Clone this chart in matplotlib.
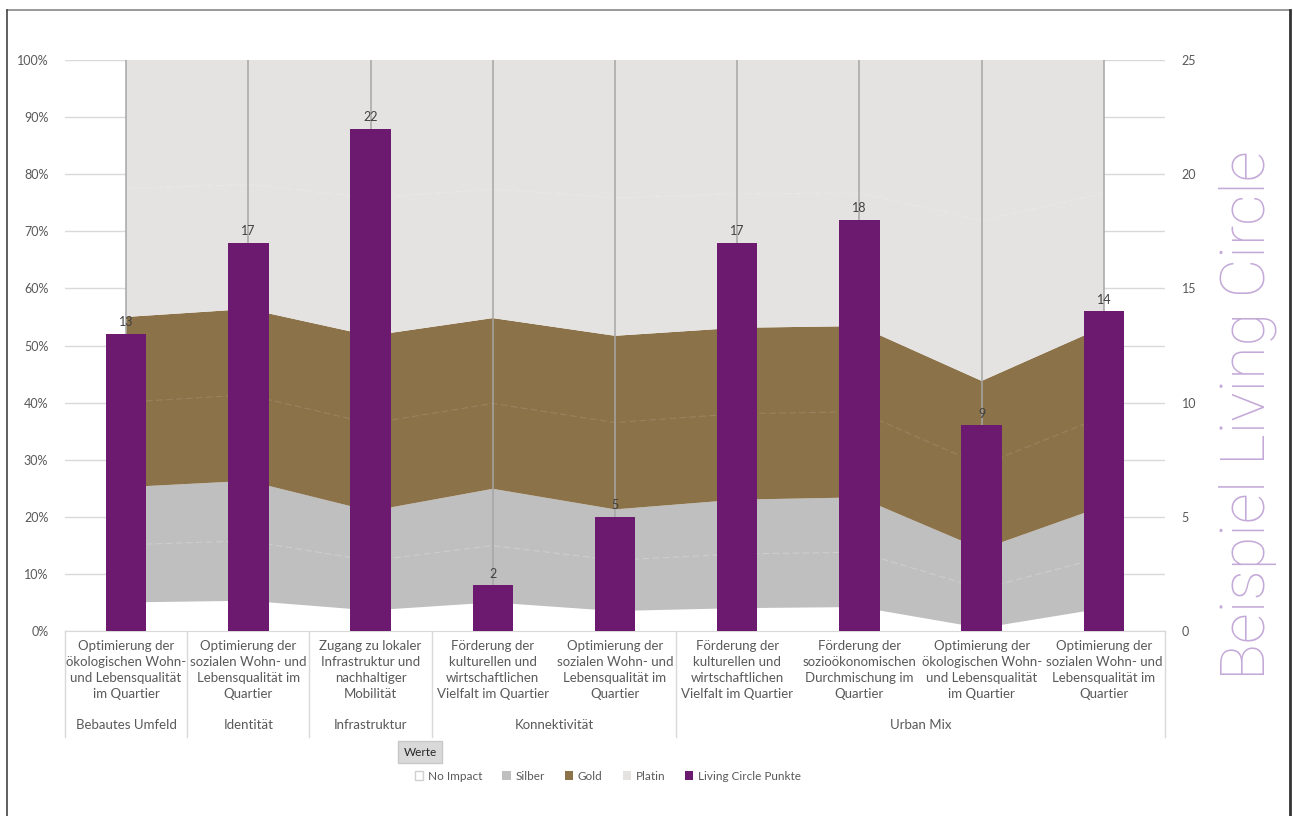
import numpy as np
import matplotlib.pyplot as plt
from matplotlib.patches import Patch
from matplotlib.lines import Line2D
import matplotlib.transforms as mtransforms

plt.rcParams['font.family'] = ['Lato', 'DejaVu Sans']

# Indicator labels (lower level) and their group (upper level)
categories = [
    'Optimierung der\nökologischen Wohn-\nund Lebensqualität\nim Quartier',
    'Optimierung der\nsozialen Wohn- und\nLebensqualität im\nQuartier',
    'Zugang zu lokaler\nInfrastruktur und\nnachhaltiger\nMobilität',
    'Förderung der\nkulturellen und\nwirtschaftlichen\nVielfalt im Quartier',
    'Optimierung der\nsozialen Wohn- und\nLebensqualität im\nQuartier',
    'Förderung der\nkulturellen und\nwirtschaftlichen\nVielfalt im Quartier',
    'Förderung der\nsozioökonomischen\nDurchmischung im\nQuartier',
    'Optimierung der\nökologischen Wohn-\nund Lebensqualität\nim Quartier',
    'Optimierung der\nsozialen Wohn- und\nLebensqualität im\nQuartier',
]
groups = ['Bebautes Umfeld', 'Identität', 'Infrastruktur', 'Konnektivität', 'Urban Mix']
group_sizes = [1, 1, 1, 2, 4]

# Stacked bands in percent
no_impact = [5.0, 5.3, 3.6, 5.0, 3.5, 4.0, 4.2, 0.5, 4.0]
silber = [20.2, 21.0, 17.4, 19.9, 17.8, 19.0, 19.2, 13.8, 17.9]
gold = [29.8, 30.1, 30.7, 29.9, 30.4, 30.1, 30.0, 29.5, 31.4]
platin = [45.0, 43.6, 48.3, 45.2, 48.3, 46.9, 46.6, 56.2, 46.7]

# Points per indicator (right axis)
punkte = [13, 17, 22, 2, 5, 17, 18, 9, 14]

band_colors = ['#ffffff', '#bfbfbf', '#8b7249', '#e4e3e1']
mid_colors = ['#ffffff', '#cdcdcd', '#9a8260', '#e9e8e6']
purple = '#6b1a70'
text_gray = '#595959'

W, H = 1293, 816
fig = plt.figure(figsize=(W / 100, H / 100), dpi=100)
L, R, B, T = 65, 1165, 631, 60
ax = fig.add_axes([L / W, 1 - B / H, (R - L) / W, (B - T) / H])

x = np.arange(len(punkte))
bands = [no_impact, silber, gold, platin]

ax.set_xlim(-0.5, len(x) - 0.5)
ax.set_ylim(0, 100)
ax.set_yticks(np.arange(0, 101, 10))
ax.set_yticklabels([f'{v}%' for v in range(0, 101, 10)])
ax.grid(axis='y', color='#d9d9d9', linewidth=1.0, zorder=0)
ax.set_axisbelow(True)
ax.stackplot(x, *bands, colors=band_colors, zorder=1)

# faint centre line inside each band
base = np.zeros(len(x))
for vals, c in zip(bands, mid_colors):
    vals = np.array(vals)
    ax.plot(x, base + vals / 2, color=c, lw=0.8, dashes=(6, 3), zorder=2)
    base = base + vals

# drop lines at each category
ax.vlines(x, 0, 100, color='#a6a6a6', lw=1.1, zorder=3)

ax.set_xticks([])
for s in ['top', 'right', 'left']:
    ax.spines[s].set_visible(False)
ax.spines['bottom'].set_color('#d9d9d9')
ax.tick_params(axis='y', length=0, pad=12, labelsize=9, labelcolor=text_gray)

# bars on the secondary axis
ax2 = ax.twinx()
ax2.set_ylim(0, 25)
ax2.set_yticks(np.arange(0, 26, 5))
ax2.bar(x, punkte, width=0.33, color=purple, zorder=4)
for xi, v in zip(x, punkte):
    ax2.text(xi, v + 0.25, str(v), ha='center', va='bottom', fontsize=9, color='#404040')
for s in ax2.spines.values():
    s.set_visible(False)
ax2.tick_params(axis='y', length=0, pad=12, labelsize=9, labelcolor=text_gray)

# multi-level category axis
trans = mtransforms.blended_transform_factory(ax.transData, ax.transAxes)
for xi, lab in zip(x, categories):
    ax.text(xi, -0.015, lab, transform=trans, ha='center', va='top', fontsize=9.5,
            color=text_gray, linespacing=1.4, clip_on=False)

edges = np.concatenate([[0], np.cumsum(group_sizes)]) - 0.5
y_sep = -(737 - B) / (B - T)
for e in edges:
    ax.plot([e, e], [0, y_sep], transform=trans, color='#d9d9d9', lw=1.0, clip_on=False)
for g, a, b in zip(groups, edges[:-1], edges[1:]):
    ax.text((a + b) / 2, -(725 - B) / (B - T), g, transform=trans, ha='center', va='center',
            fontsize=9.5, color=text_gray, clip_on=False)

# side title
fig.text(1248 / W, 1 - 415 / H, 'Beispiel Living Circle', rotation=90, ha='center', va='center',
         fontsize=44, color='#c4aad8', family=['Roboto', 'DejaVu Sans'], fontweight='light')

# legend
fig.text(420 / W, 1 - 752 / H, 'Werte', ha='center', va='center', fontsize=8.5, color='#262626',
         bbox=dict(boxstyle='square,pad=0.45', facecolor='#d9d9d9', edgecolor='#c8c8c8'))
handles = [
    Patch(facecolor='#ffffff', edgecolor='#d0d0d0', label='No Impact'),
    Patch(facecolor='#bfbfbf', label='Silber'),
    Patch(facecolor='#8b7249', label='Gold'),
    Patch(facecolor='#e4e3e1', label='Platin'),
    Patch(facecolor=purple, label='Living Circle Punkte'),
]
fig.legend(handles=handles, loc='center', bbox_to_anchor=(608 / W, 1 - 776 / H), ncol=5,
           frameon=False, fontsize=8.5, handlelength=0.7, handleheight=0.7,
           handletextpad=0.4, columnspacing=1.7, labelcolor=text_gray)

# outer frame
fig.add_artist(Line2D([7 / W, 1290 / W], [1 - 10 / H, 1 - 10 / H], color='#888888', lw=1.2))
fig.add_artist(Line2D([7 / W, 7 / W], [0, 1 - 10 / H], color='#444444', lw=1.2))
fig.add_artist(Line2D([1290 / W, 1290 / W], [0, 1 - 10 / H], color='#333333', lw=2.0))

fig.savefig('out.png', dpi=100)
